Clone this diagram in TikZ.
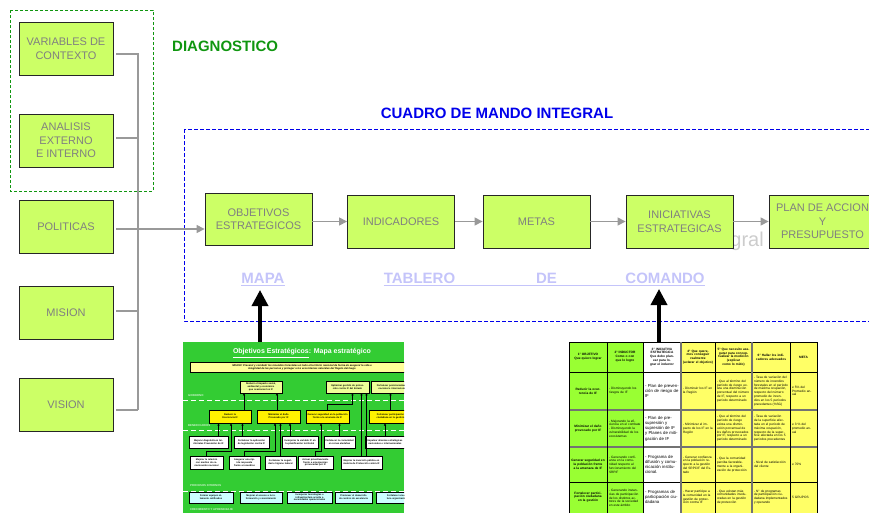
\documentclass[tikz,border=0pt]{standalone}
\usepackage{fontspec}
\setmainfont{Liberation Sans}
\usetikzlibrary{calc,arrows.meta,positioning}

\definecolor{lima}{RGB}{204,255,102}
\definecolor{diaggreen}{RGB}{16,150,16}
\definecolor{cmiblue}{RGB}{0,0,235}
\definecolor{linkblue}{RGB}{196,196,250}
\definecolor{mapgreen}{RGB}{51,204,51}
\definecolor{goalfill}{RGB}{238,255,153}
\definecolor{misfill}{RGB}{255,255,153}
\definecolor{procfill}{RGB}{204,255,255}
\definecolor{tabgreen}{RGB}{153,255,51}
\definecolor{tabyellow}{RGB}{255,255,102}

\begin{document}
\begin{tikzpicture}[x=1pt,y=-1pt,
  box/.style={draw=black!85,line width=0.8pt,fill=lima,text=black!50,align=center,
    inner sep=0pt,font=\fontsize{11}{13.5}\selectfont},
  leftbox/.style={box,minimum width=94pt,minimum height=53pt},
  procbox/.style={box,minimum width=107pt,minimum height=53pt},
  link/.style={draw=black!40,line width=1.1pt},
  linkarrow/.style={link,-{Triangle[length=8pt,width=8pt]}},
  heading/.style={font=\fontsize{15}{18}\selectfont\bfseries,inner sep=0pt},
  tabword/.style={heading,text=linkblue,anchor=base},
  underl/.style={draw=linkblue,line width=1pt},
  bigarrow/.style={line width=3.5pt,-{Triangle[length=16pt,width=16pt]}},
  mapbox/.style={draw=black,line width=0.5pt,inner xsep=1pt,inner ysep=0.3pt,align=center,
    font=\fontsize{2.4}{2.8}\selectfont\bfseries},
  msize/.style 2 args={text width=#1pt,minimum height=#2pt},
  topgoal/.style={mapbox,fill=goalfill},
  benefit/.style={mapbox,fill=yellow,line width=1pt},
  action/.style={mapbox,fill=white},
  process/.style={mapbox,fill=procfill},
  mapline/.style={draw=black,line width=0.6pt,-{Triangle[length=2pt,width=2pt]}},
  layerline/.style={draw=white,line width=0.8pt,dash pattern=on 5pt off 3pt},
  layername/.style={font=\fontsize{2.8}{3}\selectfont\bfseries,text=white!75!mapgreen,
    anchor=west,inner sep=0pt},
  cell/.style={inner sep=0pt,align=left,text width=#1pt,font=\fontsize{3.2}{3.8}\selectfont},
  hcell/.style={cell=#1,align=center,font=\fontsize{3.2}{3.8}\selectfont\bfseries},
  bigcell/.style={cell=#1,font=\fontsize{4.3}{5.2}\selectfont},
  tabline/.style={draw=black,line width=0.8pt},
  tabgray/.style={draw=black!55,line width=1.5pt}]
\clip (0,0) rectangle (869,512);

\draw[diaggreen,line width=0.9pt,dash pattern=on 3pt off 2pt] (10,10) rectangle (153,191);
\node[heading,text=diaggreen,anchor=west] (diag) at (172,46) {DIAGNOSTICO};

\node[leftbox] (var) at (66,48.5) {VARIABLES DE\\CONTEXTO};
\node[leftbox] (ana) at (66,140.5) {ANALISIS\\EXTERNO\\E INTERNO};
\node[leftbox] (pol) at (66,226.5) {POLITICAS};
\node[leftbox] (mis) at (66,312.5) {MISION};
\node[leftbox] (vis) at (66,404.5) {VISION};

\draw[cmiblue,line width=0.9pt,dash pattern=on 4pt off 2pt] (184,129) rectangle (890,321);
\node[heading,text=cmiblue] (cmi) at (497,113) {CUADRO DE MANDO INTEGRAL};
\node[font=\fontsize{20}{24}\selectfont,text=black!20,anchor=base east,inner sep=0pt] (wmark)
  at (764,246) {gral};

\node[procbox,minimum height=52pt] (obj) at (258.5,219) {OBJETIVOS\\ESTRATEGICOS};
\node[procbox] (ind) at (401,221.5) {INDICADORES};
\node[procbox] (met) at (536.5,221.5) {METAS};
\node[procbox] (ini) at (679.5,221.5) {INICIATIVAS\\ESTRATEGICAS};
\node[procbox] (plan) at (822.5,221.5) {PLAN DE ACCION\\Y\\PRESUPUESTO};

% connectors
\coordinate (bus) at (138,0);
\coordinate (pvar) at ([yshift=-5.5pt]var.east);
\coordinate (pana) at ([yshift=2.5pt]ana.east);
\coordinate (ppol) at ([yshift=-2.5pt]pol.east);
\coordinate (pmis) at ([yshift=1.5pt]mis.east);
\coordinate (pvis) at ([yshift=-5.5pt]vis.east);
\draw[link,shorten <=3pt] (pvar) -- (pvar -| bus) -- (pvis -| bus);
\draw[link,shorten <=3pt] (pana) -- (pana -| bus);
\draw[link,shorten <=3pt] (pmis) -- (pmis -| bus);
\draw[link,shorten <=3pt] (pvis) -- (pvis -| bus);
\draw[linkarrow,shorten <=3pt] (ppol) -- (ppol -| obj.west);
\draw[linkarrow] (ind.west -| obj.east) -- (ind.west);
\draw[linkarrow] (met.west -| ind.east) -- (met.west);
\draw[linkarrow] (ini.west -| met.east) -- (ini.west);
\draw[linkarrow] (plan.west -| ini.east) -- (plan.west);

\node[tabword] (mapa) at (263,283.5) {MAPA};
\node[tabword] (tablero) at (419.5,283.5) {TABLERO};
\node[tabword] (de) at (546.5,283.5) {DE};
\node[tabword] (comando) at (665,283.5) {COMANDO};
\draw[underl] ([yshift=-1.8pt]mapa.base west) -- ([yshift=-1.8pt]mapa.base east);
\draw[underl] ([yshift=-1.8pt]tablero.base west) -- ([yshift=-1.8pt]comando.base east);

% mapa estrategico
\node[fill=mapgreen,inner sep=0pt,minimum width=221pt,minimum height=190pt,anchor=north west]
  (mapathumb) at (183,342) {};
\begin{scope}
\clip (183,342) rectangle (404,532);
\node[font=\fontsize{7}{8}\selectfont\bfseries,text=white,inner sep=0pt] (maptitle) at (302,353)
  {\underline{Objetivos Estratégicos}: Mapa estratégico};
\node[draw=black,line width=0.8pt,fill=misfill,minimum width=224pt,minimum height=10pt,
  inner sep=0.5pt,align=center,font=\fontsize{2.6}{3}\selectfont\bfseries\itshape] (mision)
  at (302,367) {MISION: Prevenir y combatir los incendios forestales en todo el territorio nacional de forma de asegurar la vida e\\integridad de las personas y proteger a los ecosistemas naturales del flagelo del fuego};

\node[topgoal,msize={40}{12}] (gob1) at (261,387) {Reducir el impacto social, ambiental y económico que ocasionan los IF};
\node[topgoal,msize={41}{12}] (gob2) at (347.5,387) {Optimizar gestión de protección contra IF del Estado};
\node[topgoal,msize={41}{12}] (gob3) at (392.5,387) {Fortalecer posicionamiento nacional e internacional};
\draw[layerline] (183,400) -- (404,400);
\node[layername] (lgob) at (188,396) {GOBIERNO};

\node[benefit,msize={40}{13}] (ben1) at (230,416.5) {Reducir la\\Ocurrencia IF};
\node[benefit,msize={41}{13}] (ben2) at (278.5,416.5) {Minimizar el daño\\Provocado por IF};
\node[benefit,msize={41}{13}] (ben3) at (327.5,416.5) {Generar seguridad en la población frente a la amenaza de IF};
\node[benefit,msize={41}{13}] (ben4) at (390.5,416.5) {Fortalecer participación ciudadana en la gestión};
\draw[layerline] (183,430) -- (404,430);
\node[layername] (lben) at (188,426) {BENEFICIARIOS};

\node[action,msize={37}{12}] (act11) at (208.5,442) {Mejorar diagnósticos territoriales Prevención de IF};
\node[action,msize={33}{12}] (act12) at (251.5,442) {Fortalecer la aplicación de legislación contra IF};
\node[action,msize={34}{12}] (act13) at (300,442) {Incorporar la variable IF en la planificación territorial};
\node[action,msize={29}{12}] (act14) at (339.5,442) {Fortalecer la comunidad en zonas aledañas};
\node[action,msize={38}{12}] (act15) at (385,442) {Impulsar alianzas estratégicas nacionales e internacionales};
\node[action,msize={31}{13}] (act21) at (206.5,462.5) {Mejorar la relación con medios de comunicación nacional};
\node[action,msize={29}{13}] (act22) at (244.5,462.5) {Asegurar una rápida respuesta frente a incendios};
\node[action,msize={29}{13}] (act23) at (280.5,462.5) {Fortalecer la seguridad e higiene laboral};
\node[action,msize={33}{13}] (act24) at (315.5,462.5) {Actuar proactivamente frente a emergencias provocadas por IF};
\node[action,msize={39}{13}] (act25) at (361.5,462.5) {Mejorar la inversión pública en materia de Protección contra IF};
\draw[layerline] (183,491) -- (404,491);
\node[layername] (lpro) at (190,486) {PROCESOS INTERNOS};

\node[process,msize={42}{11}] (pin1) at (211,497.5) {Formar equipos altamente calificados};
\node[process,msize={40}{11}] (pin2) at (261,497.5) {Mejorar el acceso a la información y conocimiento};
\node[process,msize={43}{11}] (pin3) at (309.5,497.5) {Incorporar tecnologías e infraestructura acorde a necesidades operacionales};
\node[process,msize={35}{11}] (pin4) at (353.5,497.5) {Promover el desarrollo de centros de excelencia};
\node[process,msize={41}{11}] (pin5) at (398,497.5) {Fortalecer una cultura organizacional};
\node[layername] (lcre) at (190,510) {CRECIMIENTO Y APRENDIZAJE};

\draw[mapline] ([xshift=14pt]ben1.north) -- ([xshift=-17pt]gob1.south);
\draw[mapline] ([xshift=-1.5pt]ben2.north) -- ([xshift=16pt]gob1.south);
\draw[mapline] (ben3.north) -- ++(0,-5) -| ([xshift=5pt]gob2.south);
\draw[mapline] (ben4.north) -- (ben4.north |- gob3.south);
\draw[mapline] (act25.north) -- (act25.north |- gob2.south);
\draw[mapline] ([xshift=5pt]act25.north) -- ([xshift=5pt]act25.north |- gob2.south);
\draw[mapline] ([xshift=10pt]act11.north) -- ([xshift=10pt]act11.north |- ben1.south);
\draw[mapline] ([xshift=-9pt]act12.north) -- ([xshift=-9pt]act12.north |- ben1.south);
\draw[mapline] (act21.north) -- ++(0,-4) -| ([xshift=1pt]ben1.south);
\draw[mapline] ([xshift=-10pt]act13.north) -- ([xshift=-10pt]act13.north |- ben2.south);
\draw[mapline] (act22.north) -- ++(0,-4) -| ([xshift=-3.5pt]ben2.south);
\draw[mapline] (act23.north) -- (act23.north |- ben2.south);
\draw[mapline] (act24.north) -- ++(0,-4) -| ([xshift=-6.5pt]ben3.south);
\draw[mapline] (act14.north) -- (act14.north |- ben3.south);
\draw[mapline] (act15.north) -- (act15.north |- ben4.south);
\end{scope}

% tablero de comando
\node[inner sep=0pt,minimum width=248pt,minimum height=190pt,anchor=north west]
  (tabthumb) at (569,342) {};
\fill[tabgreen] (569,342) rectangle (643,532);
\fill[white] (643,342) rectangle (681,532);
\fill[tabyellow] (681,342) rectangle (817,532);

\node[hcell=34] (hd1) at (588,357) {1° OBJETIVO\\Que quiero lograr};
\node[hcell=32] (hd2) at (625,357) {2° INDUCTOR\\Como o con que lo logro};
\node[hcell=34] (hd3) at (662,357) {3° INICIATIVA ESTRATEGICA\\Que debo planear para lograr el inductor};
\node[hcell=30] (hd4) at (698,357) {4° Que queremos conseguir realmente\\(aclarar el objetivo)};
\node[hcell=33] (hd5) at (733.5,357) {5° Que necesito asegurar para conceptualizar la medición\\(explicar como lo mido)};
\node[hcell=34] (hd6) at (771,357) {6° Hallar los indicadores adecuados};
\node[hcell=23] (hd7) at (803.5,357) {META};

\node[hcell=34] (ra1) at (588,391) {Reducir la ocurrencia de IF};
\node[cell=32] (ra2) at (625,391) {- Disminuyendo los riesgos de IF};
\node[bigcell=34] (ra3) at (662,391) {- Plan de prevención de riesgo de IF};
\node[cell=30] (ra4) at (698,391) {- Disminuir los IF en la Región};
\node[cell=33] (ra5) at (733.5,391) {- Que al término del período de riesgo exista una disminución porcentual del número de IF, respecto a un período determinado};
\node[cell=34] (ra6) at (771,391) {- Tasa de variación del número de incendios forestales en el período de máxima ocupación, respecto del número promedio de incendios en los 5 períodos precedentes (\%SG)};
\node[cell=23] (ra7) at (803.5,391) {≥ 5\% del Promedio anual};

\node[hcell=34] (rb1) at (588,428.5) {Minimizar el daño provocado por IF};
\node[cell=32] (rb2) at (625,428.5) {- Mejorando la eficiencia en el combate\\- Disminuyendo la vulnerabilidad de los ecosistemas};
\node[bigcell=34] (rb3) at (662,428.5) {- Plan de presupresión y supresión de IF y Planes de mitigación de IF};
\node[cell=30] (rb4) at (698,428.5) {- Minimizar el impacto de los IF en la Región};
\node[cell=33] (rb5) at (733.5,428.5) {- Que al término del período de riesgo exista una disminución porcentual de los daños provocados por IF, respecto a un período determinado};
\node[cell=34] (rb6) at (771,428.5) {- Tasa de variación de la superficie afectada en el período de máxima ocupación, respecto de la superficie afectada en los 5 períodos precedentes};
\node[cell=23] (rb7) at (803.5,428.5) {≥ 3 \% del promedio anual};

\node[hcell=34] (rc1) at (588,464.5) {Generar seguridad en la población frente a la amenaza de IF};
\node[cell=32] (rc2) at (625,464.5) {- Generando confianza en la comunidad respecto al funcionamiento del SRPIF};
\node[bigcell=34] (rc3) at (662,464.5) {- Programa de difusión y comunicación institucional.};
\node[cell=30] (rc4) at (698,464.5) {- Generar confianza en la población respecto a la gestión del SRPCIF del Estado};
\node[cell=33] (rc5) at (733.5,464.5) {- Que la comunidad perciba favorablemente a la organización de protección};
\node[cell=34] (rc6) at (771,464.5) {- Nivel de satisfacción del cliente};
\node[cell=23] (rc7) at (803.5,464.5) {≥ 70\%};

\node[hcell=34] (rd1) at (588,497) {Fortalecer participación ciudadana en la gestión};
\node[cell=32] (rd2) at (625,498) {- Generando instancias de participación de los distintos actores de la sociedad en este ámbito};
\node[bigcell=34] (rd3) at (662,497) {- Programas de participación ciudadana};
\node[cell=30] (rd4) at (698,497) {- Hacer partícipe a la comunidad en la gestión de protección contra IF};
\node[cell=33] (rd5) at (733.5,497) {- Que existan más comunidades involucradas en la gestión de protección};
\node[cell=34] (rd6) at (771,497) {- N° de programas de participación ciudadana implementados y operando};
\node[cell=23] (rd7) at (803.5,497) {5 GRUPOS};

\draw[tabline] (569,342) -- (817,342) (569,372) -- (817,372) (569,482) -- (817,482);
\draw[tabgray] (569,410) -- (817,410) (569,447) -- (817,447);
\draw[tabline] (569,342) -- (569,532) (607,342) -- (607,532) (643,342) -- (643,532)
  (715,342) -- (715,532) (790,342) -- (790,532) (817,342) -- (817,532);
\draw[tabgray] (681,342) -- (681,532) (752,342) -- (752,532);

\coordinate (mapatip) at (260,290);
\coordinate (comtip) at (659,289);
\draw[bigarrow] (mapatip |- mapathumb.north) -- (mapatip);
\draw[bigarrow] (comtip |- tabthumb.north) -- (comtip);
\end{tikzpicture}
\end{document}
